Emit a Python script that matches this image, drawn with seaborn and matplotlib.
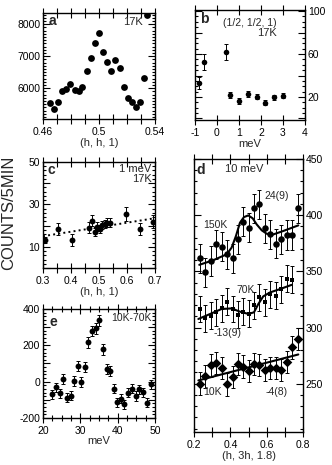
import pandas as pd
import seaborn as sns
import matplotlib.pyplot as plt
from matplotlib.ticker import MultipleLocator

# panel a: (h, h, 1) scan, 17K
a_h = [0.4648, 0.4679, 0.4707, 0.4738, 0.4767, 0.4795, 0.4826, 0.4855, 0.4881,
       0.4914, 0.4945, 0.4974, 0.5000, 0.5029, 0.5057, 0.5088, 0.5117, 0.5148,
       0.5176, 0.5207, 0.5236, 0.5267, 0.5290, 0.5319, 0.5345]
a_counts = [5531, 5344, 5583, 5917, 5979, 6135, 5948, 5917, 6031, 6552, 6938, 7406,
            7740, 7146, 6813, 6542, 6885, 6625, 6031, 5688, 5563, 5406, 5583, 6333, 8292]

# panel b: energy scan at (1/2, 1/2, 1), 17K
b_e = [-0.8, -0.6, 0.4, 0.6, 1.0, 1.4, 1.8, 2.2, 2.6, 3.0]
b_counts = [33.3, 52.8, 62.2, 21.9, 16.3, 22.8, 20.3, 14.7, 19.7, 21.2]
b_err = [5.5, 7.5, 7.5, 2.5, 2.5, 2.5, 2.5, 2.5, 2.5, 2.5]

# panel c: (h, h, 1) scan at 1 meV, 17K
c_h = [0.307, 0.355, 0.402, 0.465, 0.476, 0.486, 0.494, 0.504, 0.512, 0.521,
       0.530, 0.539, 0.596, 0.646, 0.694]
c_counts = [13.2, 18.4, 13.2, 19.0, 22.3, 17.1, 19.5, 18.4, 20.3, 20.8,
            21.4, 21.4, 25.5, 18.4, 21.8]
c_err = [1.5, 2.7, 2.7, 2.7, 2.7, 2.0, 2.0, 2.0, 2.0, 2.0, 2.0, 2.0, 3.5, 3.0, 3.0]
c_fit_h = [0.3, 0.7]
c_fit = [15.0, 23.5]

# panel d: (h, 3h, 1.8) scans at 10 meV
d_h = [0.233, 0.261, 0.292, 0.321, 0.352, 0.383, 0.413, 0.442, 0.471, 0.502,
       0.532, 0.559, 0.591, 0.620, 0.651, 0.680, 0.712, 0.741, 0.772]
d_150k = [361.7, 349.0, 359.3, 374.1, 372.0, 365.2, 361.7, 378.5, 394.1, 388.8,
          406.0, 409.6, 388.3, 383.0, 374.6, 378.5, 382.4, 382.4, 406.0]
d_70k = [316.5, 308.2, 310.6, 313.5, 317.0, 323.0, 316.5, 311.2, 314.1, 312.1,
         320.0, 326.8, 322.4, 329.8, 328.3, 334.2, 343.6, 342.5]
d_10k = [250.0, 256.5, 266.2, 268.6, 264.2, 249.4, 255.9, 267.7, 265.3, 261.2,
         267.7, 266.8, 262.4, 264.2, 264.2, 262.4, 269.1, 282.4, 290.0]
d_err_150k = 13
d_err_70k = 12
d_err_10k = 10

# fitted curves
fit150_h = [0.229, 0.306, 0.380, 0.407, 0.431, 0.453, 0.475, 0.499, 0.523, 0.545,
            0.573, 0.600, 0.628, 0.691, 0.774]
fit150 = [355.8, 359.9, 365.2, 371.1, 381.5, 393.3, 398.3, 399.8, 397.2, 391.8,
          386.5, 383.5, 382.4, 385.9, 390.9]
fit70_h = [0.224, 0.288, 0.352, 0.407, 0.453, 0.499, 0.530, 0.554, 0.581, 0.618,
           0.673, 0.738]
fit70 = [307.6, 312.0, 316.5, 317.0, 314.1, 312.1, 313.5, 320.9, 327.7, 331.2,
         334.2, 338.0]
fit10_h = [0.224, 0.774]
fit10 = [252.9, 276.0]

# panel e: 10K-70K difference vs energy
e_e = [22.3, 23.5, 24.6, 25.4, 26.5, 27.4, 28.3, 29.3, 30.2, 31.3, 32.1, 33.2, 34.1,
       35.0, 36.0, 37.1, 37.9, 39.0, 39.9, 40.9, 41.7, 42.9, 43.8, 44.8, 45.8, 46.9,
       47.8, 48.8]
e_diff = [-70, -31, -64, 15, -88, -77, 4, 86, 0, 82, 217, 279, 294, 339, 178, 70,
          59, -40, -114, -95, -125, -61, -40, -79, -42, -59, -116, -15]
e_err = [25, 25, 25, 28, 25, 25, 28, 28, 28, 28, 30, 30, 30, 30, 30, 28, 28, 25,
         25, 25, 25, 25, 25, 25, 25, 25, 25, 25]

sns.set_theme(style="ticks")
plt.rcParams["font.family"] = ["Liberation Sans", "DejaVu Sans"]
plt.rcParams["axes.unicode_minus"] = False

W, H = 332, 465
fig = plt.figure(figsize=(W / 100, H / 100), dpi=100)


def box(x0, y0, x1, y1):
    return fig.add_axes([x0 / W, 1 - y1 / H, (x1 - x0) / W, (y1 - y0) / H])


def style(ax, right_labels=False):
    for s in ax.spines.values():
        s.set_linewidth(1.0)
        s.set_color("black")
    ax.tick_params(which="both", direction="in", top=True, right=True,
                   labelsize=7.5, colors="black", width=0.8, pad=2)
    ax.tick_params(axis="x", which="major", direction="inout", length=7)
    ax.tick_params(axis="x", which="minor", direction="inout", length=5)
    ax.tick_params(axis="y", which="major", length=5)
    ax.tick_params(axis="y", which="minor", length=2.5)
    if right_labels:
        ax.tick_params(axis="y", labelleft=False, labelright=True)
    ax.set_xlabel("")
    ax.set_ylabel("")


def points(ax, x, y, yerr=None, marker="o", s=22):
    if yerr is not None:
        ax.errorbar(x, y, yerr=yerr, fmt="none", ecolor="black", elinewidth=0.7,
                    capsize=1.6, capthick=0.7, zorder=2)
    sns.scatterplot(x=x, y=y, ax=ax, color="black", marker=marker, s=s,
                    linewidth=0, zorder=3)


def curve(ax, x, y, ls="-", lw=1.5):
    sns.lineplot(x=x, y=y, ax=ax, color="black", linestyle=ls, linewidth=lw,
                 estimator=None, sort=True, zorder=2)


# ---- a
ax = box(43, 13, 155, 119)
points(ax, a_h, a_counts, s=24)
ax.set_xlim(0.46, 0.54)
ax.set_ylim(5040, 8350)
ax.set_xticks([0.46 + 0.01 * i for i in range(9)],
              ["0.46", "", "", "", "0.5", "", "", "", "0.54"])
ax.set_yticks([6000, 7000, 8000], ["6000", "7000", "8000"])
ax.yaxis.set_minor_locator(MultipleLocator(100))
style(ax)
ax.set_xlabel("(h, h, 1)", fontsize=8, labelpad=1)
ax.text(0.05, 0.99, "a", transform=ax.transAxes, fontsize=10, fontweight="bold",
        ha="left", va="top")
ax.text(0.89, 0.915, "17K", transform=ax.transAxes, fontsize=8, ha="right", va="center")

# ---- b
ax = box(195, 10, 305, 120)
points(ax, b_e, b_counts, b_err, s=16)
ax.set_xlim(-1, 4)
ax.set_ylim(-1.4, 101)
ax.set_xticks([-1, 0, 1, 2, 3, 4])
ax.set_yticks([0, 20, 40, 60, 80, 100], ["", "20", "", "60", "", "100"])
ax.yaxis.set_minor_locator(MultipleLocator(5))
style(ax, right_labels=True)
ax.set_xlabel("meV", fontsize=8, labelpad=1)
ax.text(0.045, 0.98, "b", transform=ax.transAxes, fontsize=10, fontweight="bold",
        ha="left", va="top")
ax.text(0.745, 0.88, "(1/2, 1/2, 1)", transform=ax.transAxes, fontsize=7.5,
        ha="right", va="center")
ax.text(0.745, 0.79, "17K", transform=ax.transAxes, fontsize=8, ha="right", va="center")

# ---- c
ax = box(43, 162, 155, 268)
curve(ax, c_fit_h, c_fit, ls=":", lw=1.4)
points(ax, c_h, c_counts, c_err, s=18)
ax.set_xlim(0.3, 0.7)
ax.set_ylim(0, 50)
ax.set_xticks([0.3 + 0.05 * i for i in range(9)],
              ["0.3", "", "0.4", "", "0.5", "", "0.6", "", "0.7"])
ax.set_yticks([0, 10, 20, 30, 40, 50], ["", "10", "", "30", "", "50"])
ax.yaxis.set_minor_locator(MultipleLocator(2))
style(ax)
ax.set_xlabel("(h, h, 1)", fontsize=8, labelpad=1)
ax.text(0.036, 0.925, "c", transform=ax.transAxes, fontsize=10, fontweight="bold",
        ha="left", va="center")
ax.text(0.97, 0.93, "1 meV", transform=ax.transAxes, fontsize=8, ha="right", va="center")
ax.text(0.97, 0.835, "17K", transform=ax.transAxes, fontsize=8, ha="right", va="center")

# ---- d
ax = box(194, 159, 303, 432)
curve(ax, fit150_h, fit150)
curve(ax, fit70_h, fit70)
curve(ax, fit10_h, fit10)
points(ax, d_h, d_150k, d_err_150k, marker="o", s=22)
points(ax, d_h[:len(d_70k)], d_70k, d_err_70k, marker="s", s=8)
points(ax, d_h, d_10k, d_err_10k, marker="D", s=24)
ax.set_xlim(0.2, 0.8)
ax.set_ylim(207, 449)
ax.set_xticks([0.2 + 0.1 * i for i in range(7)],
              ["0.2", "", "0.4", "", "0.6", "", "0.8"])
ax.set_yticks([250, 300, 350, 400, 450])
ax.yaxis.set_minor_locator(MultipleLocator(10))
style(ax, right_labels=True)
ax.set_xlabel("(h, 3h, 1.8)", fontsize=8, labelpad=1)
ax.text(0.02, 0.96, "d", transform=ax.transAxes, fontsize=10, fontweight="bold",
        ha="left", va="center")
ax.text(0.46, 0.962, "10 meV", transform=ax.transAxes, fontsize=8, ha="center", va="center")
ax.text(0.654, 417, "24(9)", fontsize=7.5, ha="center", va="center")
ax.text(0.316, 391, "150K", fontsize=7.5, ha="center", va="center")
ax.text(0.486, 333, "70K", fontsize=7.5, ha="center", va="center")
ax.text(0.387, 295.5, "-13(9)", fontsize=7.5, ha="center", va="center")
ax.text(0.302, 243, "10K", fontsize=7.5, ha="center", va="center")
ax.text(0.654, 243, "-4(8)", fontsize=7.5, ha="center", va="center")

# ---- e
ax = box(43, 309, 155, 418)
points(ax, e_e, e_diff, e_err, s=18)
ax.set_xlim(20, 50)
ax.set_ylim(-200, 400)
ax.set_xticks([20, 30, 40, 50])
ax.xaxis.set_minor_locator(MultipleLocator(2.5))
ax.set_yticks([-200, -100, 0, 100, 200, 300, 400],
              ["-200", "", "0", "", "200", "", "400"])
ax.yaxis.set_minor_locator(MultipleLocator(20))
style(ax)
ax.set_xlabel("meV", fontsize=8, labelpad=0)
ax.text(0.0625, 0.885, "e", transform=ax.transAxes, fontsize=10, fontweight="bold",
        ha="left", va="center")
ax.text(0.97, 0.92, "10K-70K", transform=ax.transAxes, fontsize=7.5,
        ha="right", va="center")

fig.text(9 / W, 1 - 213 / H, "COUNTS/5MIN", rotation=90, fontsize=12,
         ha="center", va="center")

fig.savefig("out.png", dpi=100)
